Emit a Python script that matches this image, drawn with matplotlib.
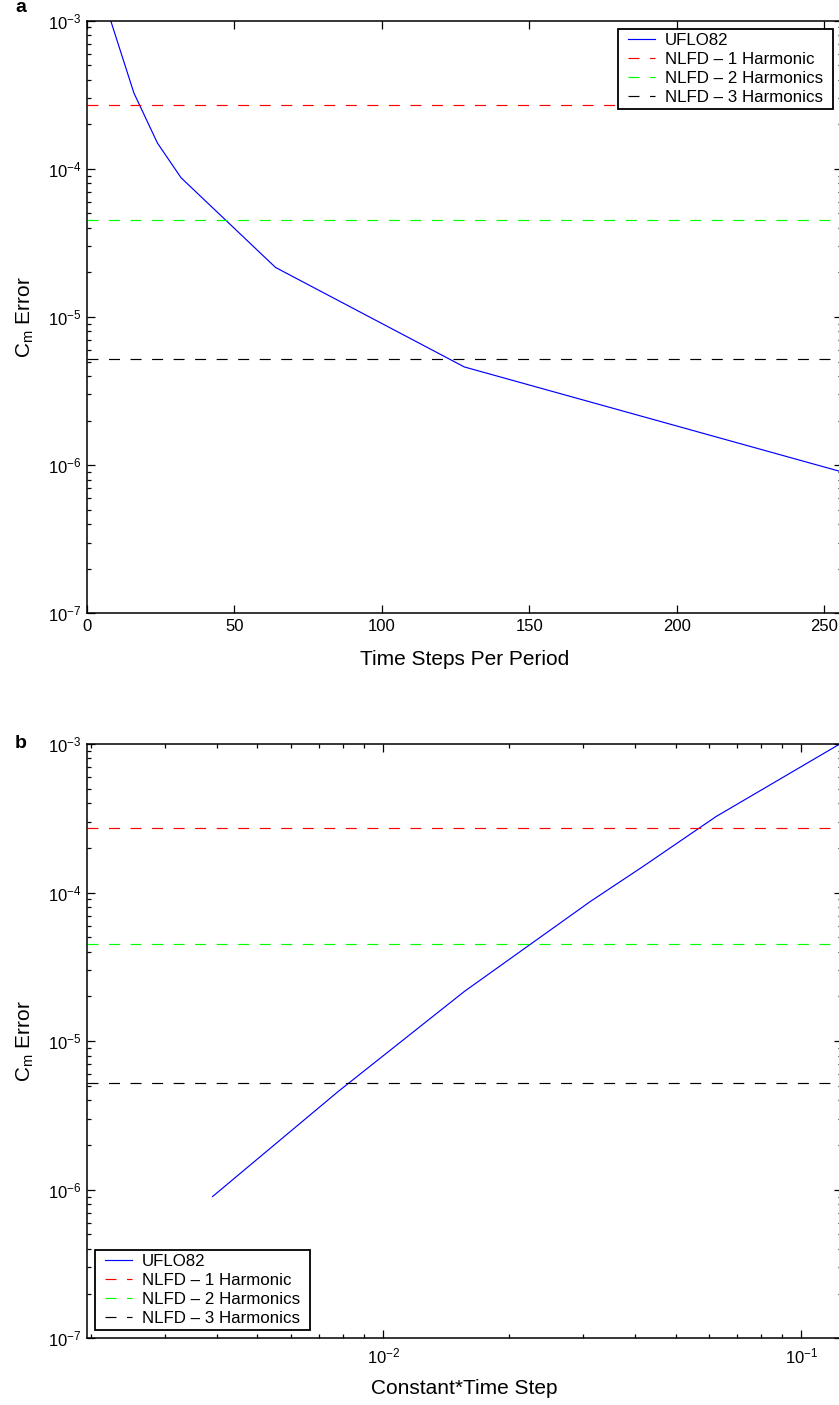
import matplotlib
matplotlib.use("Agg")
import matplotlib.pyplot as plt
import numpy as np
from matplotlib.ticker import LogLocator, NullFormatter, FixedLocator
from matplotlib.patches import Rectangle

plt.rcParams['font.family'] = ['Liberation Sans', 'DejaVu Sans']
plt.rcParams['mathtext.fontset'] = 'custom'
plt.rcParams['mathtext.rm'] = 'Liberation Sans'
plt.rcParams['mathtext.it'] = 'Liberation Sans:italic'
plt.rcParams['mathtext.bf'] = 'Liberation Sans:bold'
plt.rcParams['lines.scale_dashes'] = False

# ---- data ----
steps_per_period = [8, 16, 24, 32, 64, 128, 256]
uflo82_error = [1.02e-3, 3.25e-4, 1.49e-4, 8.7e-5, 2.16e-5, 4.6e-6, 9.0e-7]
nlfd_1h = 2.7e-4
nlfd_2h = 4.5e-5
nlfd_3h = 5.2e-6
const_time_step = [1.0 / n for n in steps_per_period]

labels = ['UFLO82', 'NLFD \u2013 1 Harmonic', 'NLFD \u2013 2 Harmonics', 'NLFD \u2013 3 Harmonics']
colors = ['#0000ff', '#ff0000', '#00ff00', '#000000']

W, H = 839, 1405
fig = plt.figure(figsize=(W / 100, H / 100), dpi=100)

def ax_rect(l, t, r, b):
    return [l / W, 1 - b / H, (r - l) / W, (b - t) / H]

ax1 = fig.add_axes(ax_rect(86.7, 20.7, 842, 613.3))
ax2 = fig.add_axes(ax_rect(86.7, 744, 842, 1338.3))

lw = 0.85
dash = (7.9, 7.6)
TICK_FS = 12
LAB_FS = 15
LEG_FS = 12.2
HPAD = 6  # extra horizontal frame padding in px

def style(ax):
    for s in ax.spines.values():
        s.set_linewidth(1.1)
    ax.tick_params(which='both', direction='in', top=True, right=True,
                   labelsize=TICK_FS, width=0.9, colors='black')
    ax.tick_params(which='major', length=5.5, pad=4)
    ax.tick_params(which='minor', length=3)
    ax.set_yscale('log')
    ax.set_ylim(1e-7, 1e-3)
    ax.yaxis.set_major_locator(LogLocator(base=10, numticks=10))
    ax.yaxis.set_minor_locator(LogLocator(base=10, subs=np.arange(2, 10), numticks=20))
    ax.yaxis.set_minor_formatter(NullFormatter())
    ax.set_ylabel(r'C$_\mathrm{m}$ Error', fontsize=LAB_FS, labelpad=8.5)

def legend(ax, loc, anchor):
    leg = ax.legend(loc=loc, bbox_to_anchor=anchor,
                    bbox_transform=fig.transFigure, fontsize=LEG_FS, frameon=False,
                    handlelength=1.6, handletextpad=0.6, labelspacing=0.24,
                    borderpad=0.22, borderaxespad=0)
    return leg

# ---- panel a ----
ax1.plot(steps_per_period, uflo82_error, color=colors[0], lw=lw, label=labels[0])
for val, c, lab in zip([nlfd_1h, nlfd_2h, nlfd_3h], colors[1:], labels[1:]):
    ax1.axhline(val, color=c, lw=lw, dashes=dash, label=lab)
ax1.set_xlim(0, 256)
ax1.xaxis.set_major_locator(FixedLocator([0, 50, 100, 150, 200, 250]))
style(ax1)
ax1.set_xlabel('Time Steps Per Period', fontsize=LAB_FS, labelpad=11.5)
leg1 = legend(ax1, 'upper right', ((833 - HPAD) / W, 1 - 29 / H))

# ---- panel b ----
ax2.plot(const_time_step, uflo82_error, color=colors[0], lw=lw, label=labels[0])
for val, c, lab in zip([nlfd_1h, nlfd_2h, nlfd_3h], colors[1:], labels[1:]):
    ax2.axhline(val, color=c, lw=lw, dashes=dash, label=lab)
ax2.set_xscale('log')
ax2.set_xlim(1.0 / 512, 1.0 / 8)
ax2.xaxis.set_major_locator(LogLocator(base=10, numticks=10))
ax2.xaxis.set_minor_locator(LogLocator(base=10, subs=np.arange(2, 10), numticks=20))
ax2.xaxis.set_minor_formatter(NullFormatter())
style(ax2)
ax2.tick_params(axis='x', which='major', pad=6)
ax2.set_xlabel('Constant*Time Step', fontsize=LAB_FS, labelpad=9)
leg2 = legend(ax2, 'lower left', ((95 + HPAD) / W, 1 - 1330 / H))

fig.text(15 / W, 1 - 8 / H, 'a', fontsize=14, fontweight='bold', va='center', ha='left')
fig.text(15 / W, 1 - 743 / H, 'b', fontsize=14, fontweight='bold', va='center', ha='left')

# white boxed legend frames, wider horizontally than vertically (MATLAB style)
fig.canvas.draw()
for ax, leg in [(ax1, leg1), (ax2, leg2)]:
    bb = leg.get_window_extent()
    rect = Rectangle(((bb.x0 - HPAD) / W, bb.y0 / H), (bb.width + 2 * HPAD) / W, bb.height / H,
                     transform=fig.transFigure, facecolor='white', edgecolor='black',
                     linewidth=1.3, zorder=4.5)
    ax.add_artist(rect)
    rect.set_clip_on(False)
    leg.set_zorder(5)

fig.savefig('out.png', dpi=100)
